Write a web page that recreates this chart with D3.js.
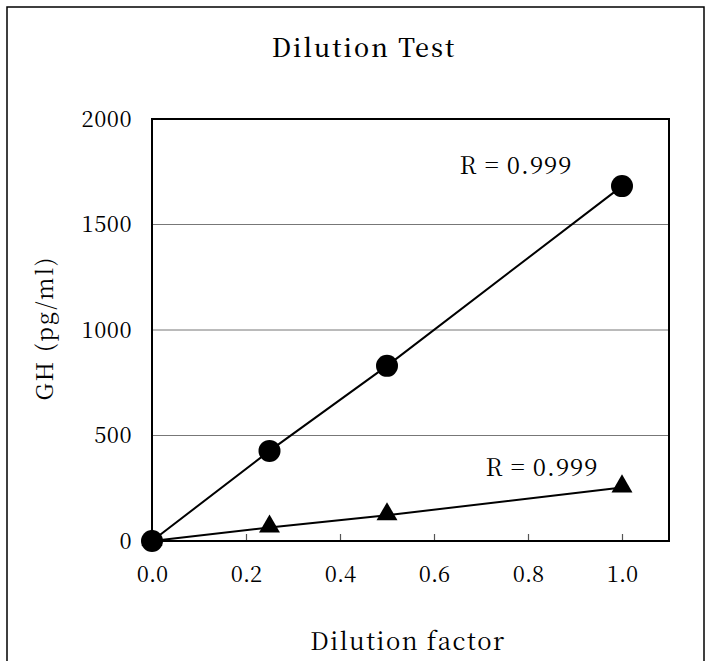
<!DOCTYPE html>
<html><head><meta charset="utf-8">
<script src="https://cdn.jsdelivr.net/npm/d3@7"></script>
<style>body{margin:0;background:#fff}</style>
</head><body><svg id="c" width="711" height="661"></svg>
<script>
const title = "Dilution Test";
const xLabel = "Dilution factor";
const yLabel = "GH (pg/ml)";
const dilution = [0, 0.25, 0.5, 1.0];
const seriesCircle = [0, 427, 830, 1682];
const seriesTriangle = [0, 64, 122, 254];
const rLabels = ["R = 0.999", "R = 0.999"];
const xTicks = [0, 0.2, 0.4, 0.6, 0.8, 1.0];
const yTicks = [0, 500, 1000, 1500, 2000];

const FONT = '"Noto Serif CJK JP", "Liberation Serif", serif';
const svg = d3.select("#c");
const L = 152, R = 669, T = 119, B = 541;
const x = d3.scaleLinear().domain([0, 1.1]).range([L, R]);
const y = d3.scaleLinear().domain([0, 2000]).range([B, T]);

svg.append("rect").attr("x", 7).attr("y", 7).attr("width", 697).attr("height", 680)
  .attr("fill", "none").attr("stroke", "#000").attr("stroke-width", 1.5);

// gridlines
svg.append("g").selectAll("line").data(yTicks.filter(d => d > 0 && d < 2000)).join("line")
  .attr("x1", L).attr("x2", R).attr("y1", d => y(d)).attr("y2", d => y(d))
  .attr("stroke", "#777").attr("stroke-width", 1);

// axes
const xAxis = d3.axisBottom(x).tickValues(xTicks).tickSize(-7).tickPadding(28).tickFormat(d3.format(".1f"));
const gx = svg.append("g").attr("transform", `translate(0,${B})`).call(xAxis);
gx.select(".domain").remove();
gx.selectAll(".tick line").attr("stroke", "#555").attr("stroke-width", 1.2);
gx.selectAll("text").style("font-family", FONT).style("font-size", "22px").attr("fill", "#000").attr("dy", "0.6em");

const yAxis = d3.axisLeft(y).tickValues(yTicks).tickSize(0).tickPadding(20).tickFormat(d3.format("d"));
const gy = svg.append("g").attr("transform", `translate(${L},0)`).call(yAxis);
gy.select(".domain").remove();
gy.selectAll("text").style("font-family", FONT).style("font-size", "22px").attr("letter-spacing", 0.5).attr("fill", "#000");

svg.append("rect").attr("x", L).attr("y", T).attr("width", R - L).attr("height", B - T)
  .attr("fill", "none").attr("stroke", "#000").attr("stroke-width", 2);

// lines
const line = d3.line().x(d => x(d[0])).y(d => y(d[1]));
[seriesCircle, seriesTriangle].forEach(s => {
  svg.append("path").attr("d", line(dilution.map((d, i) => [d, s[i]])))
    .attr("fill", "none").attr("stroke", "#000").attr("stroke-width", 2);
});

// markers
svg.append("g").selectAll("path").data(dilution.map((d, i) => [d, seriesTriangle[i]])).join("path")
  .attr("d", d3.symbol().type(d3.symbolTriangle).size(190))
  .attr("transform", d => `translate(${x(d[0])},${y(d[1]) - 1})`).attr("fill", "#000");
svg.append("g").selectAll("circle").data(dilution.map((d, i) => [d, seriesCircle[i]])).join("circle")
  .attr("cx", d => x(d[0])).attr("cy", d => y(d[1])).attr("r", 11).attr("fill", "#000");

function label(tx, ty, size, txt, opts = {}) {
  const t = svg.append("text").attr("x", tx).attr("y", ty).attr("text-anchor", "middle")
    .style("font-family", FONT).style("font-size", size + "px");
  if (opts.weight) t.style("font-weight", opts.weight);
  if (opts.ls) t.attr("letter-spacing", opts.ls);
  if (opts.rot) t.attr("transform", `rotate(-90,${tx},${ty})`);
  t.text(txt);
  return t;
}
// R labels
label(516, 174, 24, rLabels[0], {ls: 1});
label(542, 476, 24, rLabels[1], {ls: 1});

// titles
label(364, 57, 25, title, {weight: 500, ls: 2});
label(408, 650, 24, xLabel, {ls: 1.5});
label(53, 328, 23, yLabel, {rot: true, ls: 2});
</script></body></html>
